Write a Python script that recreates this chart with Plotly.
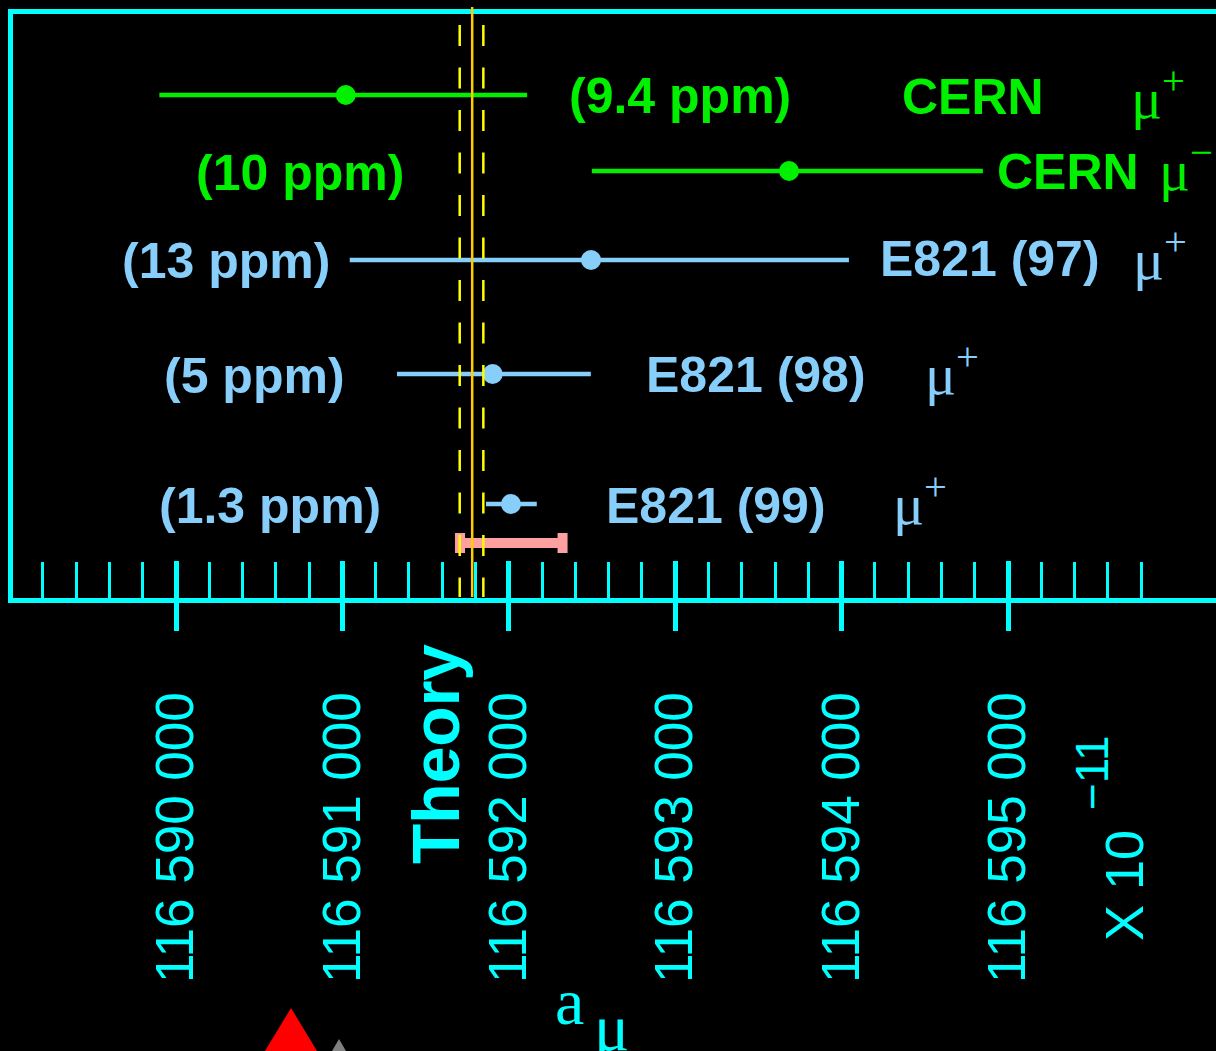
import plotly.graph_objects as go

# ---------------- data ----------------
experiments = ["CERN μ+", "CERN μ−", "E821 (97)", "E821 (98)", "E821 (99)"]
a_mu = [116591020, 116593684, 116592494, 116591903, 116592013]
err_minus = [1120, 1185, 1450, 575, 150]
err_plus = [1090, 1165, 1550, 590, 155]
precision_labels = ["(9.4 ppm)", "(10 ppm)", "(13 ppm)", "(5 ppm)", "(1.3 ppm)"]
exp_labels = ["CERN", "CERN", "E821 (97)", "E821 (98)", "E821 (99)"]
charge_labels = ["+", "−", "+", "+", "+"]
theory_value = 116591780
theory_lo = 116591705
theory_hi = 116591847
band_center = 116592015
band_half = 308
tick_vals = [116590000, 116591000, 116592000, 116593000, 116594000, 116595000]
tick_text = ["116 590 000", "116 591 000", "116 592 000", "116 593 000", "116 594 000", "116 595 000"]
minor_step = 200

# ---------------- layout constants ----------------
W, H = 1216, 1051
L, T, B, R = 13, 14, 453, 0
PW, PH = W - L - R, H - T - B
PX_PER_UNIT = 0.1664
X0 = tick_vals[0] - (176 - L) / PX_PER_UNIT
X1 = X0 + PW / PX_PER_UNIT

CYAN = "#00FFFF"
GREEN = "#00F000"
BLUE = "#87CEFA"
PINK = "#FFA0A0"
colors = [GREEN, GREEN, BLUE, BLUE, BLUE]

row_y = [503, 427, 338, 224, 94]   # row positions (units above plot bottom)
band_y = 55


def xv(px):
    return X0 + (px - L) / PX_PER_UNIT


def yp(py):
    return (H - B - py) / PH


def xp(px):
    return (px - L) / PW


fig = go.Figure()

# pink band
fig.add_trace(go.Scatter(
    x=[band_center], y=[band_y], mode="markers",
    marker=dict(size=2, color=PINK),
    error_x=dict(type="data", array=[band_half], color=PINK, thickness=10, width=10),
    showlegend=False, hoverinfo="skip"))

for grp, col in [([0, 1], GREEN), ([2, 3, 4], BLUE)]:
    fig.add_trace(go.Scatter(
        x=[a_mu[i] for i in grp], y=[row_y[i] for i in grp], mode="markers",
        marker=dict(size=20, color=col, line=dict(width=0)),
        error_x=dict(type="data", symmetric=False,
                     array=[err_plus[i] for i in grp],
                     arrayminus=[err_minus[i] for i in grp],
                     color=col, thickness=4.5, width=0),
        showlegend=False, text=[experiments[i] for i in grp]))

# dummy trace for overlay axis
fig.add_trace(go.Scatter(x=[tick_vals[0]], y=[-100], xaxis="x2", mode="markers",
                         marker=dict(size=1, opacity=0), showlegend=False, hoverinfo="skip"))

# theory lines
shapes = [
    dict(type="line", xref="x", yref="paper", x0=theory_value, x1=theory_value,
         y0=yp(7), y1=yp(597), line=dict(color="#FFCC00", width=2.5), layer="above"),
]
for v in (theory_lo, theory_hi):
    shapes.append(dict(type="line", xref="x", yref="paper", x0=v, x1=v,
                       y0=yp(25), y1=yp(597),
                       line=dict(color="#FFFF00", width=2.5, dash="21px,21.5px"), layer="above"))

# decorative triangles at bottom
def tri(apx, apy, base_y, slope, color):
    hw = (base_y - apy) * slope
    path = "M {} {} L {} {} L {} {} Z".format(
        xp(apx), yp(apy), xp(apx - hw), yp(base_y), xp(apx + hw), yp(base_y))
    return dict(type="path", xref="paper", yref="paper", path=path,
                fillcolor=color, line=dict(width=0))

shapes.append(tri(291, 1008, 1080, 0.605, "#FF0000"))
shapes.append(tri(339, 1039, 1080, 0.58, "#808080"))

# annotations
ann = []
bold = dict(family="Liberation Sans, Arial, sans-serif", size=50, weight="bold")
serif = "Liberation Serif, Times New Roman, serif"
prec_px = [567, 194, 120, 162, 157]
prec_py = [96, 173, 261, 376, 506]
exp_px = [900, 995, 878, 644, 604]
exp_py = [97, 172, 259, 375, 506]
mu_px = [1129, 1157, 1131, 923, 891]
mu_py = [94, 166, 255, 371, 500]
for i in range(5):
    ann.append(dict(x=xv(prec_px[i]), y=yp(prec_py[i]), xref="x", yref="paper",
                    text=precision_labels[i], showarrow=False, xanchor="left", yanchor="middle",
                    font=dict(bold, color=colors[i])))
    ann.append(dict(x=xv(exp_px[i]), y=yp(exp_py[i]), xref="x", yref="paper",
                    text=exp_labels[i], showarrow=False, xanchor="left", yanchor="middle",
                    font=dict(bold, color=colors[i])))
    ann.append(dict(x=xv(mu_px[i]), y=yp(mu_py[i]), xref="x", yref="paper",
                    text="μ<sup>" + charge_labels[i] + "</sup>", showarrow=False,
                    xanchor="left", yanchor="middle",
                    font=dict(family=serif, size=58, color=colors[i])))

ann.append(dict(x=xv(436), y=yp(754), xref="x", yref="paper", text="Theory",
                textangle=-90, showarrow=False, xanchor="center", yanchor="middle",
                font=dict(family="Liberation Sans, Arial, sans-serif", size=66,
                          weight="bold", color=CYAN)))
sans = "Liberation Sans, Arial, sans-serif"
ann.append(dict(x=xv(1124), y=yp(886), xref="x", yref="paper", text="X 10",
                textangle=-90, showarrow=False, xanchor="center", yanchor="middle",
                font=dict(family=sans, size=54, color=CYAN)))
ann.append(dict(x=xv(1092), y=yp(773), xref="x", yref="paper", text="−11",
                textangle=-90, showarrow=False, xanchor="center", yanchor="middle",
                font=dict(family=sans, size=46, color=CYAN)))
ann.append(dict(x=xv(569), y=yp(1001), xref="x", yref="paper", text="a",
                showarrow=False, xanchor="center", yanchor="middle",
                font=dict(family=serif, size=66, color=CYAN)))
ann.append(dict(x=xv(611), y=yp(1027), xref="x", yref="paper", text="μ",
                showarrow=False, xanchor="center", yanchor="middle",
                font=dict(family=serif, size=66, color=CYAN)))

minor_vals = [v for v in range(tick_vals[0] - 4 * minor_step, tick_vals[-1] + 4 * minor_step + 1, minor_step)
              if v not in tick_vals]

fig.update_layout(
    width=W, height=H,
    margin=dict(l=L, r=R, t=T, b=B, pad=0, autoexpand=False),
    paper_bgcolor="black", plot_bgcolor="black",
    showlegend=False,
    shapes=shapes, annotations=ann,
    xaxis=dict(range=[X0, X1], showgrid=False, zeroline=False, automargin=False,
               showline=True, linecolor=CYAN, linewidth=5, mirror=True,
               ticks="outside", ticklen=28, tickwidth=5, tickcolor=CYAN,
               tickmode="array", tickvals=tick_vals, ticktext=tick_text,
               tickangle=-90, ticklabelstandoff=40,
               tickfont=dict(family=sans, size=53, color=CYAN),
               minor=dict(tickmode="array", tickvals=minor_vals, ticks="inside",
                          ticklen=36, tickwidth=2.5, tickcolor=CYAN, showgrid=False)),
    xaxis2=dict(range=[X0, X1], overlaying="x", anchor="y", side="bottom", automargin=False,
                showgrid=False, zeroline=False, showline=False,
                ticks="inside", ticklen=37, tickwidth=5, tickcolor=CYAN,
                tickmode="array", tickvals=tick_vals, showticklabels=False),
    yaxis=dict(range=[0, PH], showgrid=False, zeroline=False, automargin=False,
               showline=True, linecolor=CYAN, linewidth=5,
               ticks="", showticklabels=False),
)

fig.write_html(
    "out.html",
    config={"displayModeBar": False},
    post_script="document.body.style.margin='0';document.body.style.background='black';",
)
